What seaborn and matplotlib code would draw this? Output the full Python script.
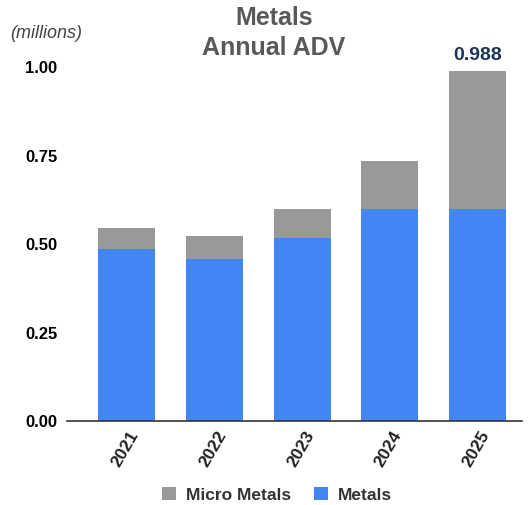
import pandas as pd
import matplotlib.pyplot as plt
import matplotlib.transforms as mtransforms
import seaborn as sns

# Values (millions)
years = ['2021', '2022', '2023', '2024', '2025']
metals = [0.485, 0.459, 0.518, 0.600, 0.600]
micro_metals = [0.061, 0.064, 0.082, 0.136, 0.388]
total_label = '0.988'

df = pd.DataFrame({'Year': years, 'Metals': metals, 'Micro Metals': micro_metals})
df['Total'] = df['Metals'] + df['Micro Metals']

sns.set_theme(style='white')
plt.rcParams['font.family'] = ['Liberation Sans', 'DejaVu Sans']

fig = plt.figure(figsize=(5.29, 5.05), dpi=100)
ax = fig.add_axes([0.127, 0.166, 0.86, 0.701])

# Stacked bars: draw total in gray, then metals over it
sns.barplot(x='Year', y='Total', data=df, color='#999999', width=0.65,
            saturation=1, linewidth=0, ax=ax, label='Micro Metals')
sns.barplot(x='Year', y='Metals', data=df, color='#4285F4', width=0.65,
            saturation=1, linewidth=0, ax=ax, label='Metals')

ax.set_ylim(0, 1.0)
ax.set_yticks([0, 0.25, 0.5, 0.75, 1.0])
ax.set_yticklabels(['0.00', '0.25', '0.50', '0.75', '1.00'],
                   fontsize=12, fontweight='bold', color='black')
ax.tick_params(axis='y', length=0, pad=7)
ax.tick_params(axis='x', length=0, pad=8)
shift = mtransforms.ScaledTranslation(6 / 72, 0, fig.dpi_scale_trans)
for lbl in ax.get_xticklabels():
    lbl.set_rotation(60)
    lbl.set_rotation_mode('anchor')
    lbl.set_ha('right')
    lbl.set_va('center')
    lbl.set_fontsize(12.5)
    lbl.set_fontweight('bold')
    lbl.set_color('#222222')
    lbl.set_transform(lbl.get_transform() + shift)
ax.set_xlabel('')
ax.set_ylabel('')
for s in ['top', 'right', 'left']:
    ax.spines[s].set_visible(False)
ax.spines['bottom'].set_color('#333333')
ax.spines['bottom'].set_linewidth(1.2)
ax.set_xlim(-0.68, 4.51)

# Value label on last bar
ax.text(4, df['Total'].iloc[-1] + 0.022, total_label, ha='center', va='bottom',
        fontsize=14, fontweight='bold', color='#1c3557', clip_on=False)

fig.text(0.518, 0.965, 'Metals', ha='center', va='center',
         fontsize=18, fontweight='bold', color='#595959')
fig.text(0.518, 0.905, 'Annual ADV', ha='center', va='center',
         fontsize=18, fontweight='bold', color='#595959')
fig.text(0.088, 0.934, '(millions)', ha='center', va='center',
         fontsize=13, style='italic', color='#444444')

handles, labels = ax.get_legend_handles_labels()
leg = fig.legend(handles, labels, loc='center', bbox_to_anchor=(0.524, 0.02),
                 ncol=2, frameon=False, handlelength=0.8, handleheight=0.8,
                 handletextpad=0.6, columnspacing=1.3,
                 prop={'size': 12.5, 'weight': 'bold'})
for t in leg.get_texts():
    t.set_color('#333333')
if ax.get_legend():
    ax.get_legend().remove()

plt.savefig('out.png', dpi=100)
